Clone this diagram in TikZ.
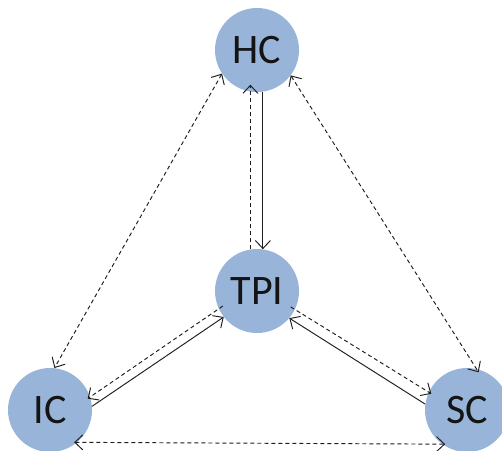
\documentclass[tikz,border=0pt]{standalone}
\usepackage{fontspec}
\setmainfont{Carlito}
\usetikzlibrary{arrows.meta}
\definecolor{nodeblue}{HTML}{98B5D9}
\definecolor{linegray}{HTML}{1E1E1E}
\begin{document}
\begin{tikzpicture}[x=1pt,y=-1pt,
  party/.style={circle,fill=nodeblue,minimum size=84pt,inner sep=0pt,
    font=\fontsize{42}{48}\selectfont,text=black!92},
  tip/.style={},
  link/.style={draw=linegray,line width=0.95pt,-{Straight Barb[length=8pt,width=15pt,line width=0.95pt]}},
  dlink/.style={link,dash pattern=on 4pt off 3pt},
  ddlink/.style={dlink,{Straight Barb[length=8pt,width=15pt,line width=0.95pt]}-{Straight Barb[length=8pt,width=15pt,line width=0.95pt]}}
]
\useasboundingbox (0,0) rectangle (502,450);
\fill[white] (0,0) rectangle (502,450);
\node[party] (HC) at (257,50) {HC};
\node[party] (TPI) at (257,291) {TPI};
\node[party] (IC) at (50,410) {IC};
\node[party] (SC) at (467,410) {SC};
% HC - TPI
\draw[link] (HC.-82) -- (TPI.82);
\draw[dlink,shorten >=-7pt] (TPI.99.5) -- (HC.-99.5);
% HC - IC, HC - SC
\draw[ddlink] (HC.214) -- (IC.84);
\draw[ddlink,shorten >=-4pt] (HC.-37) -- (SC.77);
% TPI - IC
\draw[link] (IC.5) -- (TPI.218);
\draw[dlink,shorten <=-5pt,shorten >=-3pt] (TPI.205) -- (IC.18);
% TPI - SC
\draw[link] (SC.172) -- (TPI.-40);
\draw[dlink,shorten <=-5pt,shorten >=-3pt] (TPI.-26) -- (SC.155);
% IC - SC
\draw[ddlink,shorten <=-3pt,shorten >=-3pt] (IC.-50) -- (SC.-126);
\end{tikzpicture}
\end{document}
